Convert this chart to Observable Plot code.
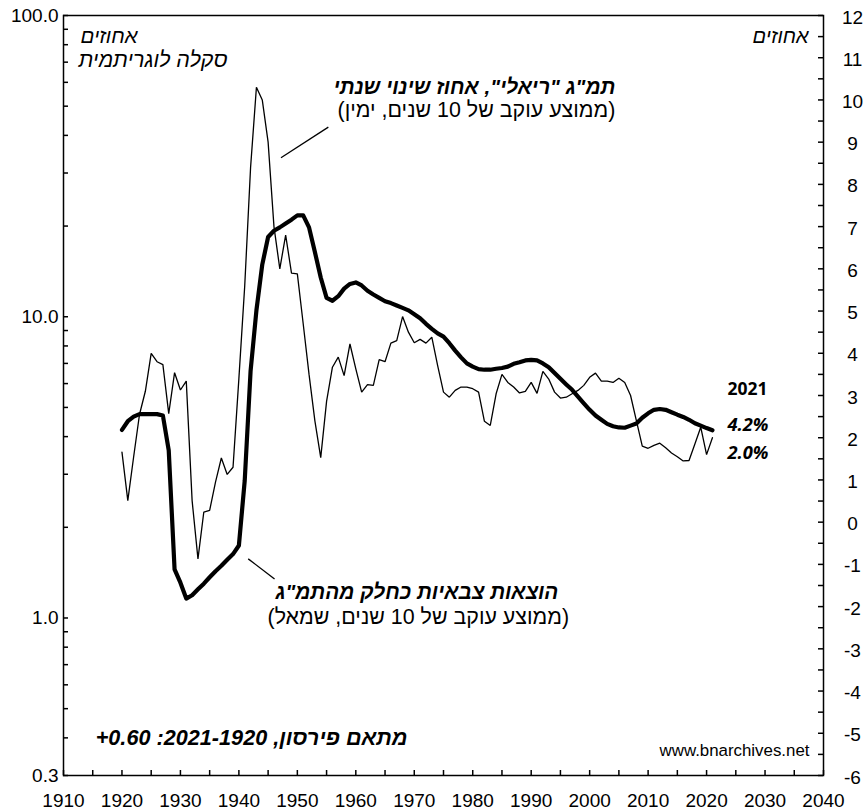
<!DOCTYPE html>
<html>
<head>
<meta charset="utf-8">
<script src="https://cdn.jsdelivr.net/npm/d3@7"></script>
<script src="https://cdn.jsdelivr.net/npm/@observablehq/plot@0.6"></script>
<style>
  html, body { margin: 0; padding: 0; background: #fff; }
  #chart svg { display: block; }
</style>
</head>
<body>
<div id="chart"></div>
<script>
// ---------- DATA ----------
const years = d3.range(1920, 2022);

// Military spending as % of GDP, 10-year trailing average (left, log scale)
const militaryShare = [
  4.21, 4.5, 4.66, 4.75, 4.75, 4.75, 4.75, 4.7, 3.6, 1.45,
  1.31, 1.16, 1.19, 1.245, 1.3, 1.365, 1.43, 1.49, 1.56, 1.63,
  1.74, 2.86, 6.6, 10.5, 14.9, 18.4, 19.3, 19.8, 20.4, 21.0,
  21.7, 21.7, 19.8, 16.4, 13.5, 11.55, 11.3, 11.7, 12.4, 12.85,
  13.0, 12.7, 12.2, 11.85, 11.55, 11.26, 11.1, 10.9, 10.7, 10.5,
  10.2, 9.89, 9.47, 9.12, 8.81, 8.59, 8.17, 7.72, 7.33, 7.0,
  6.83, 6.7, 6.67, 6.67, 6.72, 6.76, 6.83, 6.98, 7.06, 7.16,
  7.19, 7.16, 7.0, 6.8, 6.5, 6.22, 5.96, 5.72, 5.43, 5.16,
  4.91, 4.7, 4.55, 4.41, 4.33, 4.29, 4.28, 4.35, 4.42, 4.62,
  4.78, 4.91, 4.94, 4.91, 4.82, 4.73, 4.65, 4.55, 4.43, 4.35,
  4.27, 4.2
];

// "Real" GDP, annual % change, 10-year trailing average (right axis)
const gdpGrowth = [
  1.66, 0.51, 1.55, 2.55, 3.1, 4.0, 3.8, 3.73, 2.57, 3.54,
  3.13, 3.34, 0.51, -0.87, 0.24, 0.28, 0.95, 1.52, 1.13, 1.3,
  3.4, 5.6, 8.4, 10.3, 10.0, 9.0, 7.0, 6.0, 6.8, 5.9,
  5.88, 4.7, 3.5, 2.4, 1.53, 2.86, 3.67, 3.91, 3.47, 4.22,
  3.63, 3.08, 3.26, 3.24, 3.85, 3.80, 4.24, 4.30, 4.87, 4.50,
  4.25, 4.33, 4.24, 4.38, 3.71, 3.08, 2.96, 3.12, 3.20, 3.20,
  3.16, 3.08, 2.39, 2.29, 3.04, 3.50, 3.31, 3.20, 3.06, 3.10,
  3.31, 3.05, 3.57, 3.39, 3.08, 2.94, 2.96, 3.04, 3.12, 3.24,
  3.43, 3.53, 3.34, 3.34, 3.31, 3.41, 3.31, 3.0, 2.4, 1.8,
  1.75, 1.82, 1.87, 1.76, 1.64, 1.55, 1.45, 1.46, 1.85, 2.25,
  1.6, 2.0
];

const xLabelYears = d3.range(1910, 2041, 10);
const xTickYears = d3.range(1910, 2041, 5);
const leftLabelValues = [0.3, 1, 10, 100];
const leftTickValues = [0.3, 0.4, 0.5, 0.6, 0.7, 0.8, 0.9,
  1, 2, 3, 4, 5, 6, 7, 8, 9, 10, 20, 30, 40, 50, 60, 70, 80, 90, 100];
const rightLabelValues = d3.range(-6, 13, 1);
const rightTickValues = d3.range(-6, 12.01, 0.5);

const leftUnit = "אחוזים";
const leftScaleNote = "סקלה לוגריתמית";
const rightUnit = "אחוזים";
const gdpTitle = 'תמ"ג "ריאלי", אחוז שינוי שנתי';
const gdpSub = "(ממוצע עוקב של 10 שנים, ימין)";
const milTitle = 'הוצאות צבאיות כחלק מהתמ"ג';
const milSub = "(ממוצע עוקב של 10 שנים, שמאל)";
const pearsonNote = "מתאם פירסון, 1920\u200F-2021: 0.60+";
const lastYearLabel = "2021";
const lastMilLabel = "4.2%";
const lastGdpLabel = "2.0%";
const sourceNote = "www.bnarchives.net";

// ---------- helpers ----------
const L0 = Math.log10(0.3), L1 = 2;
const toLeft = v => 10 ** (L0 + (v + 6) / 18 * (L1 - L0));   // right-axis value -> left-scale value
const rtl = s => "\u202B" + s + "\u202C";

const mil = years.map((year, i) => ({year, value: militaryShare[i]}));
const gdp = years.map((year, i) => ({year, value: toLeft(gdpGrowth[i])}));

const openSans = "'Open Sans', 'DejaVu Sans', sans-serif";
const arial = "'Liberation Sans', Arial, sans-serif";

// annotation layout (anchor in data coordinates, baseline = y; fitted width in px)
const annotations = [
  {id: "gdpTitle", year: 2004.4, v: 54.7, text: rtl(gdpTitle), weight: "bold", style: "italic", anchor: "end", width: 282, font: arial},
  {id: "gdpSub", year: 2004.4, v: 45.9, text: rtl(gdpSub), weight: "normal", style: "normal", anchor: "end", width: 278, font: arial},
  {id: "milTitle", year: 1946.26, v: 1.16, text: rtl(milTitle), weight: "bold", style: "italic", anchor: "start", sameAs: "gdpTitle", font: arial},
  {id: "milSub", year: 1944.9, v: 0.955, text: rtl(milSub), weight: "normal", style: "normal", anchor: "start", sameAs: "gdpSub", font: arial},
  {id: "pearson", year: 1968.84, v: 0.380, text: rtl(pearsonNote), weight: "bold", style: "italic", anchor: "end", width: 312, font: arial},
  {id: "y2021", year: 2023.58, v: 5.48, text: lastYearLabel, weight: "bold", style: "normal", anchor: "start", width: 40, font: openSans},
  {id: "mil2021", year: 2023.58, v: 4.16, text: lastMilLabel, weight: "bold", style: "italic", anchor: "start", width: 41, font: openSans},
  {id: "gdp2021", year: 2023.58, v: 3.38, text: lastGdpLabel, weight: "bold", style: "italic", anchor: "start", width: 41, font: openSans},
  {id: "source", year: 2037.6, v: 0.347, text: sourceNote, weight: "normal", style: "normal", anchor: "end", width: 150, font: arial}
];

const cornerLabels = [
  {id: "leftUnit", text: rtl(leftUnit), frameAnchor: "top-left", dx: 17, dy: 27, anchor: "start", width: 57},
  {id: "leftScale", text: rtl(leftScaleNote), frameAnchor: "top-left", dx: 15, dy: 51, anchor: "start", width: 149},
  {id: "rightUnit", text: rtl(rightUnit), frameAnchor: "top-right", dx: -15, dy: 27, anchor: "end", width: 56}
];

const leaders = [
  {x1: 1955.3, y1: 42.6, x2: 1947.2, y2: 33.7},
  {x1: 1941.6, y1: 1.571, x2: 1946.1, y2: 1.348}
];

const BASE = 20;
const textMarks = annotations.map(a => Plot.text([a], {
  x: "year", y: "v", text: "text", lineAnchor: "bottom",
  textAnchor: a.anchor, fontWeight: a.weight, fontStyle: a.style,
  fontSize: BASE, fontFamily: a.font, fill: "black"
}));

const cornerMarks = cornerLabels.map(c => Plot.text([c], {
  text: "text", frameAnchor: c.frameAnchor, dx: c.dx, dy: c.dy, lineAnchor: "bottom",
  textAnchor: c.anchor, fontStyle: "italic", fontSize: BASE, fontFamily: arial, fill: "black"
}));

const plot = Plot.plot({
  width: 868,
  height: 811,
  marginLeft: 63,
  marginRight: 45,
  marginTop: 15,
  marginBottom: 36,
  style: {fontFamily: arial, fontSize: "19px", background: "#fff", color: "#000", overflow: "visible"},
  x: {type: "linear", domain: [1910, 2040]},
  y: {type: "log", domain: [0.3, 100]},
  marks: [
    // inward tick marks
    Plot.tickX(xTickYears, {x: d => d, insetTop: 755, stroke: "black", strokeWidth: 1.5}),
    Plot.tickY(leftTickValues, {y: d => d, insetRight: 755, stroke: "black", strokeWidth: 1.5}),
    Plot.tickY(rightTickValues.map(toLeft), {y: d => d, insetLeft: 755, stroke: "black", strokeWidth: 1.5}),
    // axis labels
    Plot.axisX({ticks: xLabelYears, tickSize: 0, tickPadding: 18, tickFormat: d => String(d), label: null, fontSize: 19}),
    Plot.axisY({anchor: "left", ticks: leftLabelValues, tickSize: 0, tickPadding: 5, tickFormat: d3.format(".1f"), label: null, fontSize: 19}),
    Plot.text(rightLabelValues, {y: d => toLeft(d), text: d => String(d), frameAnchor: "right", dx: 29, dy: 2,
      textAnchor: "middle", fontSize: 19, fontFamily: arial}),
    // series
    Plot.line(gdp, {x: "year", y: "value", stroke: "black", strokeWidth: 1.3, strokeLinejoin: "miter"}),
    Plot.line(mil, {x: "year", y: "value", stroke: "black", strokeWidth: 4.2, strokeLinejoin: "round"}),
    Plot.frame({stroke: "black", strokeWidth: 1.5}),
    // leader lines
    Plot.link(leaders, {x1: "x1", y1: "y1", x2: "x2", y2: "y2", stroke: "black", strokeWidth: 1.3}),
    ...cornerMarks,
    ...textMarks
  ]
});

document.getElementById("chart").appendChild(plot);

// ---------- fit annotation font sizes to the reference text widths ----------
const allTexts = Array.from(plot.querySelectorAll("text"));
const used = new Set();
const findText = s => {
  const el = allTexts.find(t => !used.has(t) && t.textContent === s);
  if (el) used.add(el);
  return el;
};
const items = [...cornerLabels, ...annotations];
const elements = new Map(items.map(item => [item.id, findText(item.text)]));
const fitted = {};
for (const item of items) {
  const el = elements.get(item.id);
  if (!el || item.sameAs) continue;
  const w = el.getComputedTextLength();
  if (w > 0) {
    const size = BASE * item.width / w;
    el.style.fontSize = size + "px";
    fitted[item.id] = size;
  }
}
for (const item of items.filter(a => a.sameAs)) {
  const el = elements.get(item.id);
  if (el && fitted[item.sameAs]) el.style.fontSize = fitted[item.sameAs] + "px";
}
</script>
</body>
</html>
